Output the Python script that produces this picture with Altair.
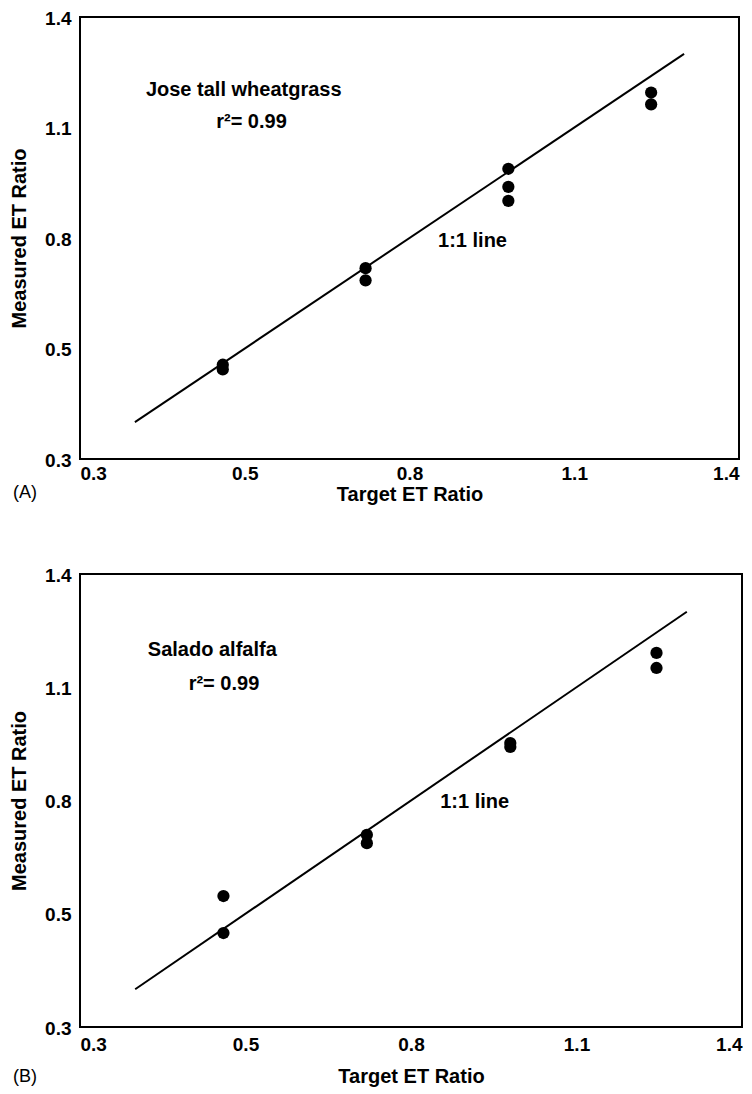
import altair as alt
import pandas as pd

# ---- data ----
# Panel A: Jose tall wheatgrass
a_target = [0.46, 0.46, 0.72, 0.72, 0.98, 0.98, 0.98, 1.24, 1.24]
a_measured = [0.456, 0.443, 0.718, 0.685, 0.988, 0.939, 0.901, 1.195, 1.163]
# Panel B: Salado alfalfa
b_target = [0.46, 0.46, 0.72, 0.72, 0.98, 0.98, 1.245, 1.245]
b_measured = [0.547, 0.449, 0.709, 0.687, 0.952, 0.942, 1.191, 1.151]

# 1:1 line end points
line_x = [0.3, 1.3]
line_y = [0.3, 1.3]

# axis ticks (the lowest tick is printed as "0.3" in the original)
tick_values = [0.2, 0.5, 0.8, 1.1, 1.4]
tick_labels = ["0.3", "0.5", "0.8", "1.1", "1.4"]

# annotations
a_notes = ["Jose tall wheatgrass", "r\u00b2= 0.99", "1:1 line"]
a_note_x = [0.32, 0.448, 0.852]
a_note_y = [1.203, 1.114, 0.793]
b_notes = ["Salado alfalfa", "r\u00b2= 0.99", "1:1 line"]
b_note_x = [0.323, 0.397, 0.853]
b_note_y = [1.199, 1.109, 0.796]

panel_letters = ["(A)", "(B)"]

# ---- build ----
expr = "''"
for v, l in zip(reversed(tick_values), reversed(tick_labels)):
    expr = f"abs(datum.value - {v}) < 0.01 ? '{l}' : ({expr})"

FONT = "Liberation Sans, Arial, Helvetica, sans-serif"


def panel(tx, my, nx, ny, notes, letter, w, h, lab_pad_x, title_pad_x, letter_dy):
    pts = pd.DataFrame({"t": tx, "m": my})
    ln = pd.DataFrame({"t": line_x, "m": line_y})
    nt = pd.DataFrame({"t": nx, "m": ny, "s": notes})
    xs = alt.Scale(domain=[tick_values[0], tick_values[-1]], nice=False, zero=False)
    ys = alt.Scale(domain=[tick_values[0], tick_values[-1]], nice=False, zero=False)
    xax = alt.Axis(values=tick_values, labelExpr=expr, title="Target ET Ratio",
                   labelPadding=lab_pad_x, titlePadding=title_pad_x)
    yax = alt.Axis(values=tick_values, labelExpr=expr, title="Measured ET Ratio",
                   labelPadding=9, titlePadding=15, labelBaseline="top",
                   labelOffset=-8)
    line = alt.Chart(ln).mark_line(color="black", strokeWidth=2).encode(
        x=alt.X("t:Q", scale=xs, axis=xax),
        y=alt.Y("m:Q", scale=ys, axis=yax),
    )
    dots = alt.Chart(pts).mark_circle(color="black", opacity=1, size=150).encode(
        x=alt.X("t:Q", scale=xs),
        y=alt.Y("m:Q", scale=ys),
    )
    txt = alt.Chart(nt).mark_text(align="left", baseline="middle", font=FONT,
                                  fontSize=20, fontWeight="bold", color="black").encode(
        x=alt.X("t:Q", scale=xs),
        y=alt.Y("m:Q", scale=ys),
        text="s:N",
    )
    lt = alt.Chart(pd.DataFrame({"s": [letter]})).mark_text(
        align="left", baseline="middle", font=FONT, fontSize=18, color="black"
    ).encode(x=alt.value(-67), y=alt.value(h + letter_dy), text="s:N")
    return alt.layer(line, dots, txt, lt).properties(width=w, height=h)


top = panel(a_target, a_measured, a_note_x, a_note_y, a_notes, panel_letters[0],
            659, 442, 5, 1, 34)
bottom = panel(b_target, b_measured, b_note_x, b_note_y, b_notes, panel_letters[1],
               662, 453, 8, 12, 50)

chart = alt.vconcat(top, bottom, spacing=60).properties(
    padding={"left": 0, "top": 0, "right": 0, "bottom": 0}
).configure_view(
    stroke="black", strokeWidth=2
).configure_axis(
    domain=False, grid=False, ticks=False,
    labelFont=FONT, labelFontSize=19, labelFontWeight="bold", labelColor="black",
    titleFont=FONT, titleFontSize=20, titleFontWeight="bold", titleColor="black",
)

chart.save("out.html", embed_options={"renderer": "svg", "actions": False})
